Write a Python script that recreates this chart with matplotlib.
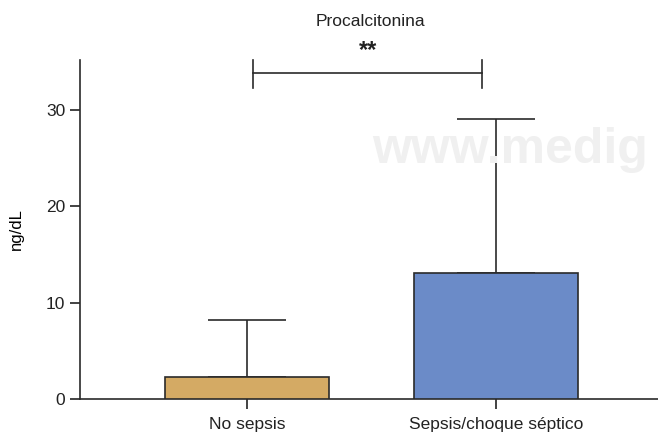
import matplotlib.pyplot as plt

plt.rcParams['font.family'] = ['Liberation Sans', 'DejaVu Sans']

grupos = ['No sepsis', 'Sepsis/choque séptico']
medias = [2.3, 13.1]
error_sup = [5.9, 16.0]  # desviación hacia arriba
colores = ['#D4AA64', '#6B8BC8']
titulo = 'Procalcitonina'
significancia = '**'
y_corchete = 33.8

fig = plt.figure(figsize=(6.58, 4.36), dpi=100)
ax = fig.add_axes([80 / 658, 37 / 436, 578 / 658, 339 / 436])

x = [0, 1]
ax.bar(x, medias, width=0.66, color=colores, edgecolor='#2a2a2a', linewidth=1.2, zorder=3)
ax.errorbar(x, medias, yerr=[[0, 0], error_sup], fmt='none', ecolor='#2a2a2a',
            elinewidth=1.2, capsize=28, capthick=1.2, zorder=2)

ax.set_xlim(-0.671, 1.65)
ax.set_ylim(0, 35.2)
ax.set_xticks(x)
ax.set_xticklabels(grupos)
ax.set_yticks([0, 10, 20, 30])
ax.set_ylabel('ng/dL', fontsize=12, labelpad=16)
ax.tick_params(axis='both', direction='out', length=7, width=1.2, labelsize=12.5, colors='#222222')
ax.tick_params(axis='x', pad=6)
for s in ['top', 'right']:
    ax.spines[s].set_visible(False)
for s in ['left', 'bottom']:
    ax.spines[s].set_linewidth(1.2)
    ax.spines[s].set_color('#2a2a2a')

# corchete de significancia
ax.plot([0.024, 0.944], [y_corchete, y_corchete], color='#2a2a2a', lw=1.2, clip_on=False)
ax.plot([0.024, 0.024], [y_corchete - 1.5, y_corchete + 1.4], color='#2a2a2a', lw=1.2, clip_on=False)
ax.plot([0.944, 0.944], [y_corchete - 1.5, y_corchete + 1.4], color='#2a2a2a', lw=1.2, clip_on=False)
ax.text(0.484, y_corchete + 1.2, significancia, ha='center', va='bottom', fontsize=17,
        fontweight='bold', color='#222222')
fig.text(370 / 658, 1 - 22 / 436, titulo, ha='center', va='center', fontsize=12.5, color='#222222')

# marca de agua
fig.text(372 / 658, 1 - 163 / 436, 'www.medig', ha='left', va='baseline', fontsize=36,
         fontweight='bold', color='#f0f0f0', zorder=0)

fig.savefig('out.png', dpi=100)
